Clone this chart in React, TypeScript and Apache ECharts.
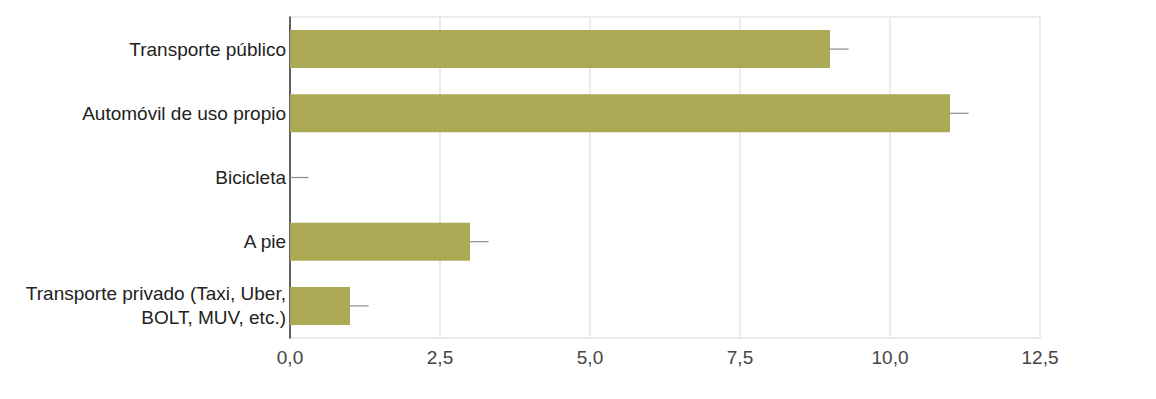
import React, { useEffect, useRef } from "react";
import * as echarts from "echarts";

const categories = [
  "Transporte público",
  "Automóvil de uso propio",
  "Bicicleta",
  "A pie",
  "Transporte privado (Taxi, Uber,\nBOLT, MUV, etc.)",
];
const values = [9, 11, 0, 3, 1];
const errors = [0.31, 0.31, 0.31, 0.31, 0.31];
const xTicks = [0, 2.5, 5, 7.5, 10, 12.5];

export default function App() {
  const ref = useRef<HTMLDivElement>(null);
  useEffect(() => {
    document.body.style.margin = "0";
    const chart = echarts.init(ref.current!, null, { renderer: "svg" });
    chart.setOption({
      animation: false,
      textStyle: { fontFamily: "Liberation Sans, Arial, sans-serif" },
      grid: {
        left: 290,
        right: 116,
        top: 17,
        bottom: 61,
        show: true,
        borderColor: "#ececec",
        borderWidth: 2,
      },
      xAxis: {
        type: "value",
        min: xTicks[0],
        max: xTicks[xTicks.length - 1],
        interval: 2.5,
        axisLine: { show: false },
        axisTick: { show: false },
        splitLine: { show: true, lineStyle: { color: "#ebebeb", width: 2 } },
        axisLabel: {
          color: "#444",
          fontSize: 19,
          margin: 10,
          formatter: (v: number) => v.toFixed(1).replace(".", ","),
        },
      },
      yAxis: {
        type: "category",
        data: categories,
        inverse: true,
        axisLine: { show: true, lineStyle: { color: "#333", width: 1.5 } },
        axisTick: { show: false },
        splitLine: { show: false },
        axisLabel: {
          color: "#222",
          fontSize: 19,
          margin: 4,
          lineHeight: 24,
          align: "right",
        },
      },
      series: [
        {
          type: "bar",
          data: values,
          barWidth: 38,
          itemStyle: { color: "#aca954" },
        },
        {
          type: "custom",
          data: values.map((v, i) => [v, i, errors[i]]),
          encode: { x: 0, y: 1 },
          z: 5,
          renderItem: (params: any, api: any) => {
            const v = api.value(0);
            const idx = api.value(1);
            const e = api.value(2);
            const p1 = api.coord([v, idx]);
            const p2 = api.coord([v + e, idx]);
            return {
              type: "line",
              shape: { x1: p1[0], y1: p1[1], x2: p2[0], y2: p2[1] },
              style: { stroke: "#8c8c8c", lineWidth: 1.2 },
            };
          },
        },
      ],
    });
    return () => chart.dispose();
  }, []);
  return (
    <div
      ref={ref}
      style={{ position: "absolute", left: 0, top: 0, width: 1156, height: 399 }}
    />
  );
}
